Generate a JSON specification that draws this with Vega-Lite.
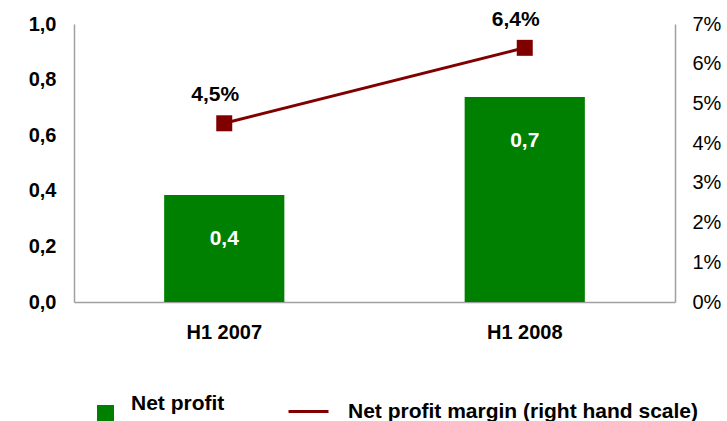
{
  "$schema": "https://vega.github.io/schema/vega-lite/v6.json",
  "width": 601,
  "height": 278,
  "autosize": "none",
  "padding": {"left": 74, "top": 24, "right": 52, "bottom": 119},
  "background": "white",
  "config": {
    "view": {"stroke": null},
    "locale": {"number": {"decimal": ",", "thousands": ".", "grouping": [3], "currency": ["", " €"]}},
    "font": "Liberation Sans"
  },
  "data": {
    "values": [
      {"period": "H1 2007", "net_profit": 0.385, "margin": 0.045, "bar_series": "Net profit", "line_series": "Net profit margin (right hand scale)"},
      {"period": "H1 2008", "net_profit": 0.737, "margin": 0.064, "bar_series": "Net profit", "line_series": "Net profit margin (right hand scale)"}
    ]
  },
  "encoding": {
    "x": {
      "field": "period", "type": "nominal",
      "scale": {"paddingInner": 0.6, "paddingOuter": 0.3},
      "axis": {"title": null, "labelAngle": 0, "labelFont": "Liberation Sans", "labelFontWeight": "bold", "labelFontSize": 20, "labelColor": "black", "ticks": false, "labelPadding": 20, "domainColor": "#a0a0a0", "domainWidth": 1.5}
    }
  },
  "layer": [
    {
      "encoding": {
        "y": {"field": "net_profit", "type": "quantitative", "scale": {"domain": [0, 1], "nice": false},
          "axis": {"title": null, "values": [0, 0.2, 0.4, 0.6, 0.8, 1.0], "format": ".1f", "grid": false, "ticks": false, "labelPadding": 18, "labelOverlap": false, "labelFont": "Liberation Sans", "labelFontWeight": "bold", "labelFontSize": 20, "labelColor": "black", "domainColor": "#a0a0a0", "domainWidth": 1.5}}
      },
      "layer": [
        {
          "mark": {"type": "bar"},
          "encoding": {
            "fill": {"field": "bar_series", "type": "nominal", "scale": {"range": ["#008000"]},
              "legend": {"title": null, "orient": "none", "legendX": 21, "legendY": 379, "symbolType": "square", "symbolSize": 289, "symbolStrokeWidth": 0, "labelFont": "Liberation Sans", "labelFontWeight": "bold", "labelFontSize": 21, "labelColor": "black", "labelOffset": 15, "labelBaseline": "bottom", "labelLimit": 0}}
          }
        },
        {
          "mark": {"type": "text", "color": "white", "fontWeight": "bold", "fontSize": 21, "font": "Liberation Sans", "dy": 44},
          "encoding": {
            "text": {"field": "net_profit", "type": "quantitative", "format": ".1f"}
          }
        }
      ]
    },
    {
      "encoding": {
        "y": {"field": "margin", "type": "quantitative", "scale": {"domain": [0, 0.07], "nice": false},
          "axis": {"orient": "right", "title": null, "values": [0, 0.01, 0.02, 0.03, 0.04, 0.05, 0.06, 0.07], "format": ".0%", "grid": false, "ticks": false, "labelPadding": 17, "labelOverlap": false, "labelFont": "Liberation Sans", "labelFontSize": 20, "labelColor": "black", "domainColor": "#a0a0a0", "domainWidth": 1.5}}
      },
      "layer": [
        {
          "mark": {"type": "line", "strokeWidth": 3},
          "encoding": {
            "stroke": {"field": "line_series", "type": "nominal", "scale": {"range": ["#800000"]},
              "legend": {"title": null, "orient": "none", "legendX": 213, "legendY": 366, "symbolType": "stroke", "symbolSize": 1600, "symbolStrokeWidth": 3, "labelFont": "Liberation Sans", "labelFontWeight": "bold", "labelFontSize": 21, "labelColor": "black", "labelOffset": 18, "labelLimit": 0}}
          }
        },
        {
          "mark": {"type": "point", "shape": "square", "filled": true, "size": 256, "color": "#800000", "opacity": 1},
          "encoding": {}
        },
        {
          "mark": {"type": "text", "color": "black", "fontWeight": "bold", "fontSize": 21, "font": "Liberation Sans", "dy": -28, "dx": -9},
          "encoding": {
            "text": {"field": "margin", "type": "quantitative", "format": ".1%"}
          }
        }
      ]
    }
  ],
  "resolve": {"scale": {"y": "independent"}}
}
